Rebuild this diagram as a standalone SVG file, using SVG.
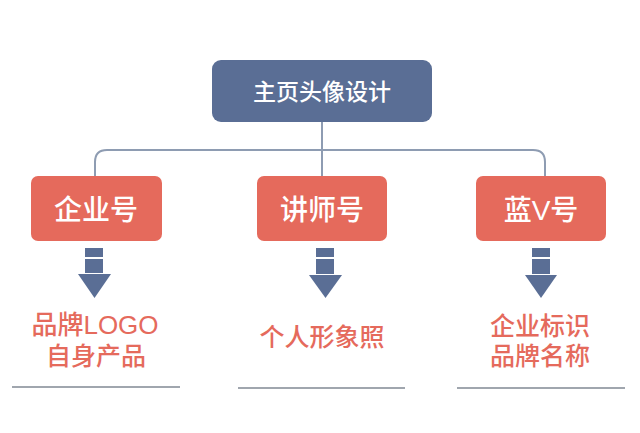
<svg xmlns="http://www.w3.org/2000/svg" width="640" height="433" viewBox="0 0 640 433">
<defs>
<style>
.top{fill:#5a6e95;}
.box{fill:#e56a5c;}
.t{font-family:"Liberation Sans","Noto Sans CJK SC",sans-serif;text-anchor:middle;font-weight:500;}
.tw{fill:#ffffff;}
.tr{fill:#e56a5c;font-size:25px;}
.arr{fill:#5a6e95;}
.conn{fill:none;stroke:#8e9cb2;stroke-width:2;}
.base{stroke:#a0a6ae;stroke-width:2;}
</style>
</defs>
<rect width="640" height="433" fill="#ffffff"/>
<g id="connectors">
<path class="conn" d="M322,122 V150"/>
<path class="conn" d="M95,176 V162 Q95,150 107,150 H533 Q545,150 545,162 V176"/>
<path class="conn" d="M322,150 V176"/>
</g>
<g id="top">
<rect class="top" x="212" y="60" width="220" height="62" rx="9"/>
<text class="t tw" x="322" y="100" style="font-size:23px">主页头像设计</text>
</g>
<g id="qiye">
<rect class="box" x="31" y="176" width="131" height="65" rx="7"/>
<text class="t tw" x="96" y="220" style="font-size:28px">企业号</text>
</g>
<g id="jiangshi">
<rect class="box" x="257" y="176" width="130" height="65" rx="7"/>
<text class="t tw" x="322" y="220" style="font-size:28px">讲师号</text>
</g>
<g id="lanv">
<rect class="box" x="476" y="176" width="130" height="65" rx="7"/>
<text class="t tw" x="541" y="220" style="font-size:28px">蓝V号</text>
</g>
<g id="arrow1">
<rect class="arr" x="85" y="248" width="18" height="9"/>
<rect class="arr" x="85" y="259" width="18" height="14"/>
<polygon class="arr" points="78,274 111,274 94.5,298"/>
</g>
<g id="arrow2">
<rect class="arr" x="316" y="248" width="18" height="9"/>
<rect class="arr" x="316" y="259" width="18" height="15"/>
<polygon class="arr" points="309,275 342,275 325.5,298"/>
</g>
<g id="arrow3">
<rect class="arr" x="532" y="248" width="18" height="9"/>
<rect class="arr" x="532" y="259" width="18" height="15"/>
<polygon class="arr" points="525,275 557,275 541,298"/>
</g>
<g id="res1">
<text class="t tr" x="95" y="334" style="font-size:26px">品牌LOGO</text>
<text class="t tr" x="96" y="365">自身产品</text>
<line class="base" x1="12" y1="387" x2="180" y2="387"/>
</g>
<g id="res2">
<text class="t tr" x="322" y="346">个人形象照</text>
<line class="base" x1="238" y1="388" x2="405" y2="388"/>
</g>
<g id="res3">
<text class="t tr" x="540" y="335">企业标识</text>
<text class="t tr" x="540" y="365">品牌名称</text>
<line class="base" x1="457" y1="388" x2="625" y2="388"/>
</g>
</svg>
